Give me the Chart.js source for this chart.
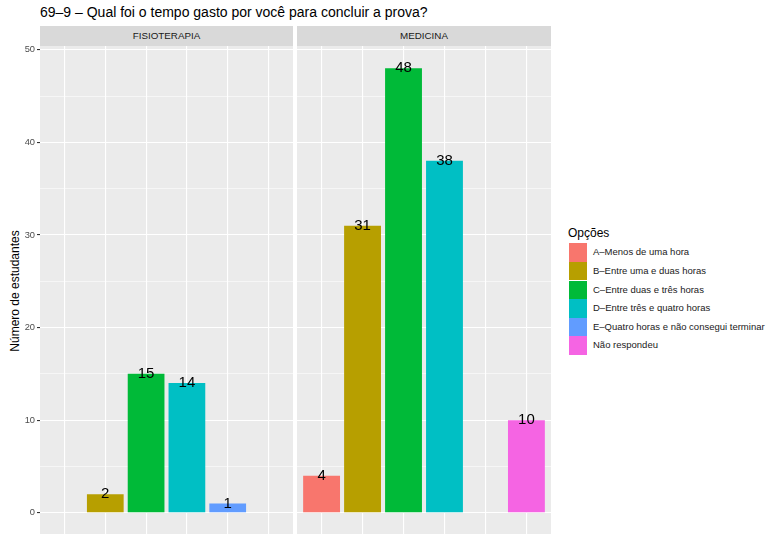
<!DOCTYPE html>
<html><head><meta charset="utf-8">
<script src="https://cdn.jsdelivr.net/npm/chart.js@4.4.1/dist/chart.umd.min.js"></script>
<style>
body{margin:0;background:#fff;font-family:"Liberation Sans",Arial,Helvetica,sans-serif}
#wrap{position:relative;width:769px;height:534px;overflow:hidden;background:#fff}
.abs{position:absolute;white-space:nowrap}
.strip{background:#D9D9D9;color:#1A1A1A;font-size:9.8px;text-align:center;line-height:20px;height:20px}
.key{position:absolute;left:568.5px;width:18.5px;height:18.6px}
.klab{position:absolute;left:593px;font-size:9.5px;color:#1A1A1A;line-height:18.6px;height:18.6px}
</style></head><body>
<div id="wrap">
  <div class="abs" id="title" style="left:40px;top:5px;font-size:14px;line-height:14px;color:#000"></div>
  <div class="abs" id="ytitle" style="left:15px;top:291px;font-size:12px;line-height:12px;color:#000;transform:translate(-50%,-50%) rotate(-90deg)"></div>
  <div class="abs strip" id="strip0" style="left:40px;top:26px;width:253px"></div>
  <div class="abs strip" id="strip1" style="left:297px;top:26px;width:254px"></div>
  <canvas id="c0" class="abs" width="293" height="489" style="left:0;top:46px;width:293px;height:489px"></canvas>
  <canvas id="c1" class="abs" width="254" height="489" style="left:297px;top:46px;width:254px;height:489px"></canvas>
  <div class="abs" id="legtitle" style="left:568px;top:227px;font-size:12px;line-height:12px;color:#000"></div>
  <div id="legend"></div>
</div>
<script>
const chartTitle = "69–9 – Qual foi o tempo gasto por você para concluir a prova?";
const yAxisTitle = "Número de estudantes";
const legendTitle = "Opções";
const categories = ["A–Menos de uma hora","B–Entre uma e duas horas","C–Entre duas e três horas","D–Entre três e quatro horas","E–Quatro horas e não consegui terminar","Não respondeu"];
const colors = ["#F8766D","#B79F00","#00BA38","#00BFC4","#619CFF","#F564E3"];
const facets = ["FISIOTERAPIA","MEDICINA"];
const fisioterapia = [null, 2, 15, 14, 1, null];
const medicina = [4, 31, 48, 38, null, 10];
const yTicks = [0, 10, 20, 30, 40, 50];
const yMinorTicks = [5, 15, 25, 35, 45];

const FONT = '"Liberation Sans", Arial, Helvetica, sans-serif';

document.getElementById('title').textContent = chartTitle;
document.getElementById('ytitle').textContent = yAxisTitle;
document.getElementById('legtitle').textContent = legendTitle;
facets.forEach((f,i)=>{ document.getElementById('strip'+i).textContent = f; });

const leg = document.getElementById('legend');
categories.forEach((c,i)=>{
  const top = 243.3 + i*18.6;
  const k = document.createElement('div'); k.className='key'; k.style.top = top+'px'; k.style.background = colors[i];
  const l = document.createElement('div'); l.className='klab'; l.style.top = top+'px'; l.textContent = c;
  leg.appendChild(k); leg.appendChild(l);
});

const bgPlugin = {
  id:'panelBg',
  beforeDraw(chart){
    const {ctx, chartArea:a} = chart;
    ctx.save(); ctx.fillStyle = '#EBEBEB';
    ctx.fillRect(a.left, a.top, a.right-a.left, a.bottom-a.top);
    ctx.restore();
  }
};
const labelPlugin = {
  id:'barLabels',
  afterDatasetsDraw(chart){
    const ctx = chart.ctx;
    const meta = chart.getDatasetMeta(0);
    const data = chart.data.datasets[0].data;
    ctx.save();
    ctx.font = '15px ' + FONT;
    ctx.fillStyle = '#000';
    ctx.textAlign = 'center';
    ctx.textBaseline = 'middle';
    meta.data.forEach((el,i)=>{
      const v = data[i].y;
      if (v === null || v === undefined) return;
      ctx.fillText(String(v), el.x, el.y);
    });
    ctx.restore();
  }
};

function makePanel(id, values, showY){
  const allY = yTicks.concat(yMinorTicks).sort((a,b)=>a-b);
  return new Chart(document.getElementById(id), {
    type:'bar',
    data:{
      datasets:[{
        data: values.map((v,i)=>({x:i+1, y:v})),
        backgroundColor: colors,
        borderWidth: 0,
        barPercentage: 0.9,
        categoryPercentage: 1.0
      }]
    },
    options:{
      responsive:false,
      animation:false,
      events:[],
      layout:{padding:0, autoPadding:false},
      plugins:{legend:{display:false}, tooltip:{enabled:false}},
      scales:{
        x:{
          type:'linear', min:0.4, max:6.6, display:true, offset:false, bounds:'data',
          afterBuildTicks: s => { s.ticks = categories.map((c,i)=>({value:i+1})); },
          afterFit: s => { s.height = 0; s.paddingLeft = 0; s.paddingRight = 0; },
          ticks:{display:false},
          grid:{color:'#FFFFFF', lineWidth:1.1, drawTicks:false, offset:false},
          border:{display:false}
        },
        y:{
          type:'linear', min:-2.4, max:50.4, display:true, bounds:'data',
          afterBuildTicks: s => { s.ticks = allY.map(v=>({value:v})); },
          afterFit: s => { s.width = showY ? 40 : 0; s.paddingTop = 0; s.paddingBottom = 0; },
          ticks:{
            display: showY, padding: 2, color:'#4D4D4D', autoSkip:false,
            font:{size:9.3, family:FONT},
            callback: v => yTicks.includes(v) ? String(v) : ''
          },
          grid:{
            color:'#FFFFFF',
            lineWidth: c => (c.tick && yTicks.includes(c.tick.value)) ? 1.1 : 0.55,
            drawTicks: showY, tickLength:3, tickWidth:1.1,
            tickColor: c => (c.tick && yTicks.includes(c.tick.value)) ? '#333333' : 'rgba(0,0,0,0)'
          },
          border:{display:false}
        }
      }
    },
    plugins:[bgPlugin, labelPlugin]
  });
}
makePanel('c0', fisioterapia, true);
makePanel('c1', medicina, false);
</script>
</body></html>
